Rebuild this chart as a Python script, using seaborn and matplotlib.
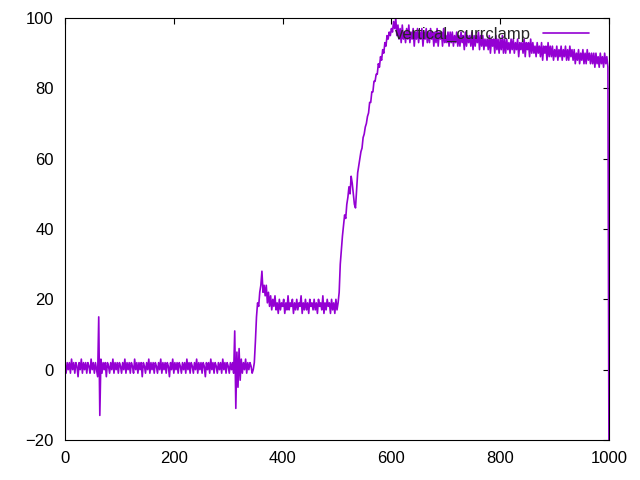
import numpy as np
import pandas as pd
import matplotlib
matplotlib.use("Agg")
import matplotlib.pyplot as plt
import seaborn as sns

# sampled every 2 units from 0 to 1000
x_step = 2

# resting level, with two artefact spikes
baseline = [1, -1, 2, 0, 2, -1, 3, 0, 2, -1, 2, 1, -2, 2, 0, 3, -1, 2, 0, 2,
            -1, 2, 1, -1, 3, 0, 2, -1, 2, 0, -2,
            15, -13,
            3, -1, 2, 0, 2, -2, 2, 1, -1, 2, 0, 3, -1, 2, 0, 2, -1, 2, 1, -1,
            2, 0, 3, -1, 2, 0, 2, -1, 2, 1, -1, 3, 0, 2, -1, 2, 0, 2, -2, 2,
            1, -1, 2, 0, 3, -1, 2, 0, 2, -1, 2, 1, -1, 2, 0, 3, -1, 2, 0, 2,
            -1, 2, 1, -2, 2, 0, 3, -1, 2, 0, 2, -1, 2, 1, -1, 2, 0, 2, -1, 3,
            0, 2, -1, 2, 1, -1, 2, 0, 3, -1, 2, 0, 2, -1, 2, 1, -2, 2, 0, 2,
            -1, 3, 0, 2, -1, 2, 1, -1, 2, 0, 2, -1, 3, 0, 2, -1, 2, 1, -1, 2,
            0, 2, -1,
            11, -11, 5, -5, 6, -3, 3,
            -1, 2, 0, 3, -1, 2, 0, 2, 1, -1]

first_rise = [0, 2, 8, 15, 19, 18, 22, 24, 28, 22, 24, 21, 24, 19, 22, 18, 21]

plateau = [17, 20, 18, 21, 17, 19, 16, 20, 17, 19, 18, 20, 16, 19, 17, 21, 17, 19, 18, 20,
           16, 19, 17, 20, 17, 19, 18, 21, 16, 19, 17, 20, 17, 19, 16, 20, 18, 19, 17, 20,
           17, 19, 16, 20, 18, 19, 17, 21, 16, 19, 17, 20, 18, 19, 16, 20, 17, 19, 16, 20,
           17, 19]

second_rise = [22, 30, 34, 38, 41, 44, 43, 47, 49, 52, 50, 55, 53, 50, 47, 46,
               51, 56, 58, 60, 62, 63, 66, 67, 69, 70, 72, 73, 76, 76, 79, 79,
               82, 82, 84, 84, 87, 86, 89, 88, 91, 90, 93, 92, 95, 94, 96, 95,
               97, 96, 99, 97, 100, 95, 98, 94]

top_band = [97, 93, 98, 94, 96, 93, 97, 94, 98, 93, 96, 94, 97, 92, 96, 94,
            97, 93, 96, 94, 97, 92, 96, 94, 97, 93, 96, 93, 97, 94, 96, 92,
            96, 93, 97, 92, 96, 94, 96, 92, 97, 93, 95, 93, 96, 92, 96, 93,
            96, 92, 95, 93, 96, 92, 95, 92, 96, 93, 95, 91, 96, 92, 95, 93,
            95, 92, 96, 91, 95, 92, 95, 93, 96, 91, 95, 92, 95, 91, 94, 92,
            94, 91, 95, 90, 94, 92, 94, 90, 95, 91, 94, 90, 94, 91, 95, 90,
            94, 90, 94, 91, 93, 90, 94, 91, 94, 90, 93, 91, 94, 89, 93, 91,
            93, 90, 94, 89, 93, 91, 93, 89, 94, 90, 93, 90, 92, 89, 93, 90,
            92, 89, 93, 88, 92, 90, 92, 88, 93, 89, 92, 89, 92, 88, 91, 89,
            92, 88, 91, 89, 92, 88, 91, 89, 92, 88, 91, 88, 92, 89, 91, 88,
            91, 87, 90, 88, 91, 87, 90, 88, 91, 87, 90, 87, 91, 88, 90, 87,
            90, 87, 90, 86, 90, 87, 89, 86, 90, 87, 89, 86, 90, 87, 89, 86]

end_value = [-30]

x_ticks = [0, 200, 400, 600, 800, 1000]
y_ticks = [-20, 0, 20, 40, 60, 80, 100]

values = baseline + first_rise + plateau + second_rise + top_band + end_value
df = pd.DataFrame({"t": np.arange(len(values)) * x_step, "v": values})

sns.set_style("white")
plt.rcParams["font.family"] = ["Liberation Sans", "DejaVu Sans"]

fig, ax = plt.subplots(figsize=(6.4, 4.8), dpi=100)
fig.subplots_adjust(left=65/640, right=609/640, bottom=1-440/480, top=1-18/480)

sns.lineplot(data=df, x="t", y="v", color="#9400d3", linewidth=1.2,
             estimator=None, sort=False, label="vertical_currclamp", ax=ax)

ax.set_xlim(0, 1000)
ax.set_ylim(-20, 100)
ax.set_xticks(x_ticks)
ax.set_yticks(y_ticks)
ax.set_xlabel("")
ax.set_ylabel("")

# gnuplot-like box with inward mirrored ticks
for s in ax.spines.values():
    s.set_visible(True)
    s.set_color("black")
    s.set_linewidth(0.8)
ax.tick_params(direction="in", length=4, width=0.8, top=True, right=True,
               labelsize=12, colors="black", pad=8)

ax.legend(loc="upper right", bbox_to_anchor=(0.982, 1.003), frameon=False,
          markerfirst=False, fontsize=12, handlelength=2.8, handletextpad=0.7,
          borderaxespad=0.2)

plt.savefig("out.png", dpi=100, facecolor="white")
